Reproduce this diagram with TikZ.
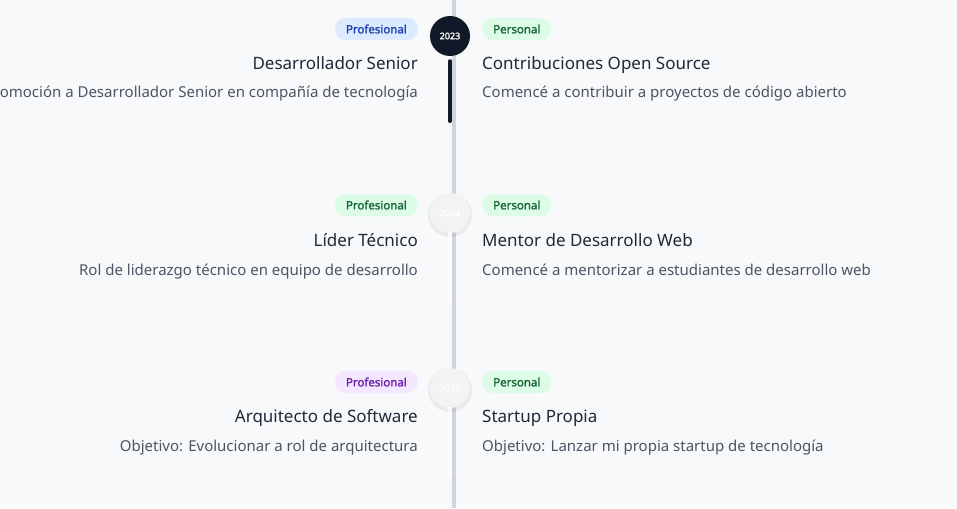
\documentclass[tikz,border=0pt]{standalone}
\usepackage{fontspec}
\setmainfont{Noto Sans}[AutoFakeBold=1.6]
\usetikzlibrary{positioning}

\definecolor{fondo}{HTML}{F8F9FB}
\definecolor{eje}{HTML}{D1D5DB}
\definecolor{oscuro}{HTML}{111827}
\definecolor{apagado}{HTML}{F3F3F1}
\definecolor{titulo}{HTML}{1F2937}
\definecolor{texto}{HTML}{4B5563}
\definecolor{azulfondo}{HTML}{DBEAFE}
\definecolor{azul}{HTML}{1E40AF}
\definecolor{verdefondo}{HTML}{DCFCE7}
\definecolor{verde}{HTML}{166534}
\definecolor{lilafondo}{HTML}{F3E8FF}
\definecolor{lila}{HTML}{6B21A8}

\tikzset{
  anio/.style={circle,minimum size=40pt,inner sep=0pt,font=\fontsize{9}{10}\selectfont\bfseries,text=white},
  chapa/.style={rounded corners=10.5pt,minimum height=22pt,inner xsep=11pt,inner ysep=0pt,font=\fontsize{11.5}{12}\selectfont\bfseries},
  tit/.style={inner sep=0pt,text=titulo,font=\fontsize{17}{20}\selectfont},
  desc/.style={inner sep=0pt,text=texto,font=\fontsize{15}{17}\selectfont},
  barra/.style={line width=4pt,line cap=round}
}

\begin{document}
\begin{tikzpicture}[x=1pt,y=-1pt]
\useasboundingbox (0,0) rectangle (957,508);
\clip (0,0) rectangle (957,508);
\fill[fondo] (0,0) rectangle (957,508);

% eje central
\coordinate (arriba) at (453.5,0);
\coordinate (abajo) at (453.5,508);
\draw[eje,line width=4pt] (arriba) -- (abajo);

% 2023
\node[anio,fill=oscuro] (y23) at (450,36) {2023};
\coordinate (f23) at (450,121);
\draw[barra,oscuro] ([yshift=-5pt]y23.south) -- (f23);
\node[chapa,fill=azulfondo,draw=azulfondo!70!white,text=azul,anchor=east] (p23) at (418,29) {Profesional};
\node[chapa,fill=verdefondo,draw=verdefondo!70!white,text=verde,anchor=west] (q23) at (482,29) {Personal};
\node[tit,anchor=base east] (t23) at (418,70) {Desarrollador Senior};
\node[desc,anchor=base east] (d23) at (418,98) {Promoción a Desarrollador Senior en compañía de tecnología};
\node[tit,anchor=base west] (s23) at (482,70) {Contribuciones Open Source};
\node[desc,anchor=base west] (e23) at (482,98) {Comencé a contribuir a proyectos de código abierto};

% 2024
\fill[black,opacity=0.06] (450,215) circle (22);
\node[anio,fill=apagado] (y24) at (450,213) {2024};
\coordinate (f24) at (450,298);
\draw[barra,white,opacity=0.7] (y24.south) -- (f24);
\node[chapa,fill=verdefondo,draw=verdefondo!70!white,text=verde,anchor=east] (p24) at (418,205) {Profesional};
\node[chapa,fill=verdefondo,draw=verdefondo!70!white,text=verde,anchor=west] (q24) at (482,205) {Personal};
\node[tit,anchor=base east] (t24) at (418,246) {Líder Técnico};
\node[desc,anchor=base east] (d24) at (418,275) {Rol de liderazgo técnico en equipo de desarrollo};
\node[tit,anchor=base west] (s24) at (482,246) {Mentor de Desarrollo Web};
\node[desc,anchor=base west] (e24) at (482,275) {Comencé a mentorizar a estudiantes de desarrollo web};

% 2025
\fill[black,opacity=0.06] (450,390) circle (22);
\node[anio,fill=apagado] (y25) at (450,388) {2025};
\coordinate (f25) at (450,475);
\draw[barra,white,opacity=0.7] (y25.south) -- (f25);
\node[chapa,fill=lilafondo,draw=lilafondo!70!white,text=lila,anchor=east] (p25) at (418,382) {Profesional};
\node[chapa,fill=verdefondo,draw=verdefondo!70!white,text=verde,anchor=west] (q25) at (482,382) {Personal};
\node[tit,anchor=base east] (t25) at (418,422) {Arquitecto de Software};
\node[desc,anchor=base east] (d25) at (418,451) {Objetivo: Evolucionar a rol de arquitectura};
\node[tit,anchor=base west] (s25) at (482,422) {Startup Propia};
\node[desc,anchor=base west] (e25) at (482,451) {Objetivo: Lanzar mi propia startup de tecnología};

\end{tikzpicture}
\end{document}
